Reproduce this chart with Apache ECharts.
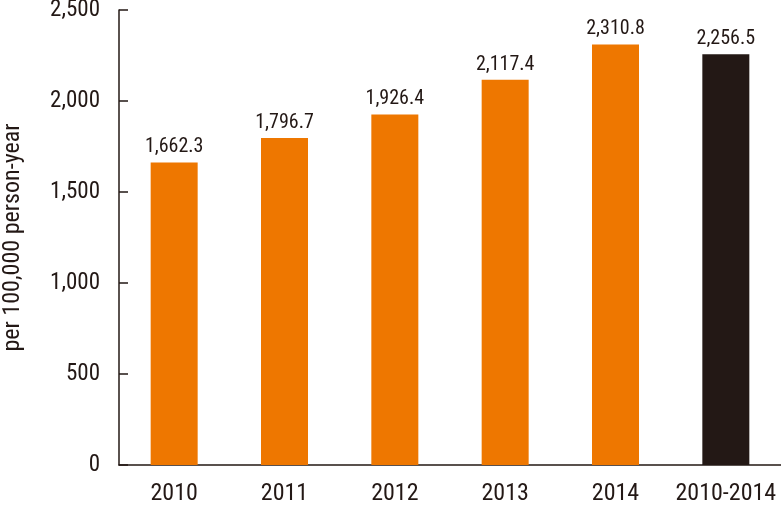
<!DOCTYPE html>
<html>
<head>
<meta charset="utf-8">
<script src="https://cdn.jsdelivr.net/npm/echarts@6/dist/echarts.min.js"></script>
<style>
  html, body { margin: 0; padding: 0; background: #fff; }
  #chart { width: 781px; height: 506px; }
</style>
</head>
<body>
<div id="chart"></div>
<script>
const categories = ["2010", "2011", "2012", "2013", "2014", "2010-2014"];
const rates = [1662.3, 1796.7, 1926.4, 2117.4, 2310.8, 2256.5];
const barColors = ["#ee7700", "#ee7700", "#ee7700", "#ee7700", "#ee7700", "#231815"];

const font = "'Liberation Sans Narrow', 'Roboto Condensed', sans-serif";

const fmt = (v, d) =>
  Number(v).toLocaleString("en-US", { minimumFractionDigits: d, maximumFractionDigits: d });

const chart = echarts.init(document.getElementById("chart"));

chart.setOption({
  animation: false,
  grid: { left: 119, top: 10, right: 0, bottom: 41, outerBoundsMode: "none" },
  xAxis: {
    type: "category",
    data: categories,
    axisLine: { lineStyle: { color: "#231815", width: 1.5 } },
    axisTick: { show: false },
    axisLabel: { interval: 0, color: "#231815", fontFamily: font, fontSize: 24, margin: 17 },
  },
  yAxis: {
    type: "value",
    min: 0,
    max: 2500,
    interval: 500,
    name: "per 100,000 person-year",
    nameLocation: "middle",
    nameRotate: 90,
    nameGap: 94,
    nameTextStyle: { color: "#231815", fontFamily: font, fontSize: 24 },
    axisLine: { show: true, lineStyle: { color: "#231815", width: 1.5 } },
    axisTick: { show: true, inside: true, length: 9, lineStyle: { color: "#231815", width: 1.5 } },
    splitLine: { show: false },
    axisLabel: {
      color: "#231815",
      fontFamily: font,
      fontSize: 23,
      margin: 19,
      formatter: (v) => fmt(v, 0),
    },
  },
  series: [
    {
      type: "bar",
      data: rates.map((v, i) => ({ value: v, itemStyle: { color: barColors[i] } })),
      barWidth: 47,
      label: {
        show: true,
        position: "top",
        distance: 5,
        color: "#231815",
        fontFamily: font,
        fontSize: 20,
        formatter: (p) => fmt(p.value, 1),
      },
    },
  ],
});
</script>
</body>
</html>
